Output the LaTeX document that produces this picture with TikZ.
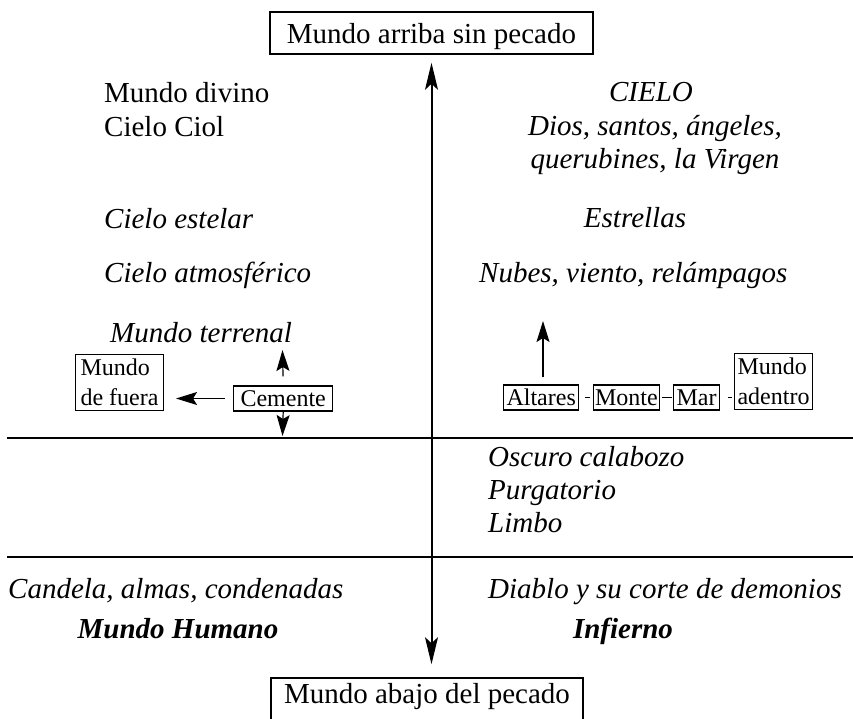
\documentclass[tikz,border=0pt]{standalone}
\usepackage{fontspec}
\setmainfont{Liberation Serif}
\usetikzlibrary{arrows.meta}
\newcommand{\topstrut}{\rule{0pt}{21pt}}
\newcommand{\botstrut}{\rule[-5pt]{0pt}{5pt}}
\begin{document}
\begin{tikzpicture}[x=1pt,y=-1pt,
  big/.style={font=\fontsize{29}{33}\selectfont, inner sep=0pt},
  bigit/.style={font=\fontsize{29}{33}\selectfont\itshape, inner sep=0pt},
  bigbf/.style={font=\fontsize{29}{33}\selectfont\bfseries\itshape, inner sep=0pt},
  titlebox/.style={draw, line width=1.6pt, font=\fontsize{29}{33}\selectfont,
    inner xsep=0pt, inner ysep=0pt},
  sbox/.style={draw, line width=1.1pt, font=\fontsize{24}{30}\selectfont,
    inner xsep=3pt, inner ysep=0pt},
  sone/.style={sbox, text height=20pt, text depth=5pt, anchor=base west},
  axisline/.style={line width=2pt, {Stealth[length=27pt,width=13pt,inset=6pt]}-{Stealth[length=27pt,width=13pt,inset=6pt]}},
  smallarrow/.style={line width=1.2pt, -{Stealth[length=21pt,width=13pt,inset=4pt]}},
  dashline/.style={line width=1.1pt},
  hline/.style={line width=1.4pt}
]
\useasboundingbox (0,0) rectangle (853,718);

% title boxes
\node[titlebox, anchor=base, text height=31pt, text depth=11pt, minimum width=323pt] (top) at (431.5,43) {Mundo arriba sin pecado};
\node[titlebox, anchor=base, text height=25pt, text depth=40pt, minimum width=312pt] (bot) at (427,703) {Mundo abajo del pecado};

% main axis
\draw[axisline, shorten <=13pt, shorten >=8pt] (bot.north -| top.south) -- (top.south);

% horizontal lines
\coordinate (h1a) at (7,438);
\coordinate (h1b) at (853,438);
\coordinate (h2a) at (7,557);
\coordinate (h2b) at (853,557);
\draw[hline] (h1a) -- (h1b);
\draw[hline] (h2a) -- (h2b);

% left column
\node[big, anchor=base west] (divino) at (104,102) {Mundo divino};
\node[big, anchor=base west] (ciol) at (104,136) {Cielo Ciol};
\node[bigit, anchor=base west] (estelar) at (104,228) {Cielo estelar};
\node[bigit, anchor=base west] (atmos) at (104,282) {Cielo atmosférico};
\node[bigit, anchor=base west] (terrenal) at (110,342) {Mundo terrenal};

% right column
\node[bigit, anchor=base] (cielo) at (651,101) {CIELO};
\node[bigit, anchor=base] (dios) at (655,135) {Dios, santos, ángeles,};
\node[bigit, anchor=base] (querub) at (655,168) {querubines, la Virgen};
\node[bigit, anchor=base] (estrellas) at (635,227) {Estrellas};
\node[bigit, anchor=base west] (nubes) at (479,282) {Nubes, viento, relámpagos};

% middle band
\node[bigit, anchor=base west] (oscuro) at (488,466) {Oscuro calabozo};
\node[bigit, anchor=base west] (purg) at (488,499) {Purgatorio};
\node[bigit, anchor=base west] (limbo) at (488,532) {Limbo};

% bottom band
\node[bigit, anchor=base west] (candela) at (8,598) {Candela, almas, condenadas};
\node[bigit, anchor=base west] (diablo) at (488,598) {Diablo y su corte de demonios};
\node[bigbf, anchor=base] (humano) at (178,638) {Mundo Humano};
\node[bigbf, anchor=base] (infierno) at (623,638) {Infierno};

% left small boxes
\node[sbox, align=left, anchor=north west, inner xsep=5pt] (fuera) at (75,354) {\topstrut Mundo\\de fuera\botstrut};
\node[sone, inner xsep=7pt] (cem) at (233,406) {Cemente};
\coordinate (terrup) at (282.5,350);
\coordinate (cemdn) at (282.5,436);
\draw[smallarrow, shorten <=8pt, shorten >=12pt] (cem.west) -- (cem.west -| fuera.east);
\draw[smallarrow, shorten <=9pt] (cem.north) -- (terrup);
\draw[smallarrow] (cem.south) -- (cemdn);

% right small boxes
\node[sone] (alt) at (503,405) {Altares};
\node[sone, inner xsep=1.5pt] (mon) at (593,405) {Monte};
\node[sone] (mar) at (673,405) {Mar};
\node[sbox, align=left, anchor=north west] (adentro) at (734,353) {\topstrut Mundo\\adentro\botstrut};
\coordinate (sky) at (543,321);
\draw[smallarrow, shorten <=7pt] (alt.north -| sky) -- (sky);
\draw[dashline, shorten <=6pt, shorten >=3pt] (alt.east) -- (mon.west);
\draw[dashline, shorten <=2pt, shorten >=1pt] (mon.east) -- (mar.west);
\draw[dashline, shorten <=8pt, shorten >=2pt] (mar.east) -- (mar.east -| adentro.west);
\end{tikzpicture}
\end{document}
